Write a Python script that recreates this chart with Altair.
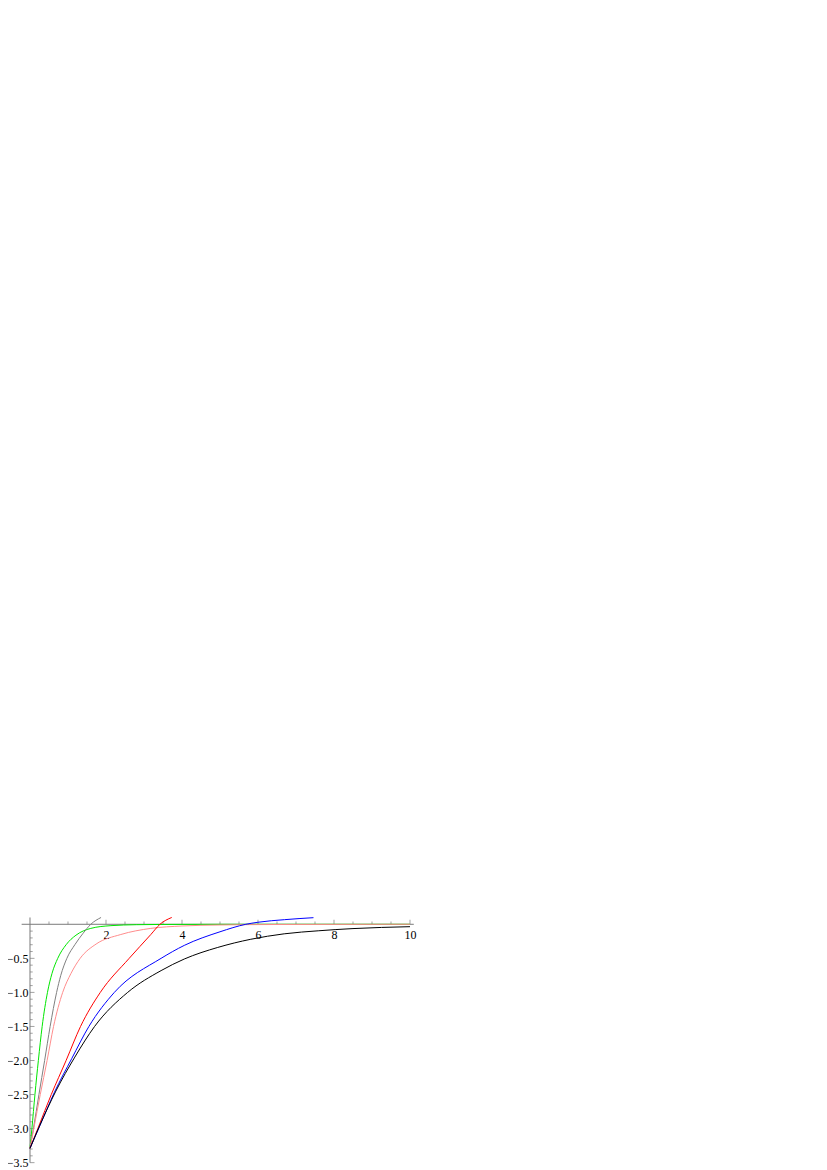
import altair as alt
import pandas as pd

# ---- data ----
green_x = [0, 0.05, 0.13, 0.22, 0.32, 0.46, 0.58, 0.73, 0.95, 1.21, 1.60, 2.13, 2.8, 3.5, 5.0, 10.0]
green_y = [-3.29, -3.0, -2.5, -2.0, -1.5, -1.0, -0.72, -0.5, -0.3, -0.16, -0.06, -0.02, -0.006, -0.002, 0.0, 0.0]

gray_x = [0, 0.09, 0.235, 0.385, 0.53, 0.70, 0.81, 0.97, 1.18, 1.40, 1.60, 1.87]
gray_y = [-3.29, -3.0, -2.5, -2.0, -1.5, -1.0, -0.75, -0.5, -0.3, -0.13, 0.0, 0.1]

pink_x = [0, 0.10, 0.27, 0.45, 0.62, 0.86, 1.08, 1.32, 1.74, 2.39, 3.18, 4.0, 5.0, 6.5, 10.0]
pink_y = [-3.29, -3.0, -2.5, -2.0, -1.5, -1.0, -0.72, -0.5, -0.29, -0.15, -0.06, -0.025, -0.01, -0.003, 0.0]

red_x = [0, 0.22, 0.56, 0.95, 1.33, 1.85, 2.61, 3.18, 3.42, 3.73]
red_y = [-3.29, -2.98, -2.5, -2.0, -1.5, -1.0, -0.5, -0.15, 0.0, 0.1]

blue_x = [0, 0.25, 0.64, 1.10, 1.55, 2.22, 3.45, 4.06, 5.0, 5.68, 6.0, 6.7, 7.46]
blue_y = [-3.29, -2.97, -2.47, -1.97, -1.5, -1.0, -0.5, -0.31, -0.11, 0.0, 0.03, 0.068, 0.097]

black_x = [0, 0.26, 0.68, 1.18, 1.70, 2.57, 3.45, 4.06, 4.94, 5.81, 6.69, 7.6, 8.5, 10.0]
black_y = [-3.29, -2.95, -2.45, -1.95, -1.5, -1.0, -0.68, -0.51, -0.34, -0.22, -0.14, -0.095, -0.063, -0.035]

series_names = ["green", "gray", "pink", "red", "blue", "black"]
series_colors = ["#00e600", "#808080", "#ff8c8c", "#ff0000", "#0000ff", "#000000"]
series_x = [green_x, gray_x, pink_x, red_x, blue_x, black_x]
series_y = [green_y, gray_y, pink_y, red_y, blue_y, black_y]

x_major = [2, 4, 6, 8, 10]
x_minor = [0.5, 1, 1.5, 2.5, 3, 3.5, 4.5, 5, 5.5, 6.5, 7, 7.5, 8.5, 9, 9.5]
y_major = [-3.5, -3.0, -2.5, -2.0, -1.5, -1.0, -0.5]
y_minor = [-3.4, -3.3, -3.2, -3.1, -2.9, -2.8, -2.7, -2.6, -2.4, -2.3, -2.2, -2.1,
           -1.9, -1.8, -1.7, -1.6, -1.4, -1.3, -1.2, -1.1, -0.9, -0.8, -0.7, -0.6,
           -0.4, -0.3, -0.2, -0.1]

x_domain = [-0.22, 10.1]
y_domain = [-3.5, 0.1]

# ---- geometry ----
PX_X = 38.0
PX_Y = 68.1
W = (x_domain[1] - x_domain[0]) * PX_X
H = (y_domain[1] - y_domain[0]) * PX_Y
origin_px = -x_domain[0] * PX_X          # x=0 from plot left
zero_px = y_domain[1] * PX_Y              # y=0 from plot top

AX = "#7a7a7a"
FONT = "Liberation Serif, Times New Roman, serif"
FS = 12

xscale = alt.Scale(domain=x_domain, nice=False, zero=False)
yscale = alt.Scale(domain=y_domain, nice=False, zero=False)

xaxis = alt.Axis(values=x_major, format="d", orient="bottom", offset=-(H - zero_px),
                 domain=False, ticks=False, tickSize=0, grid=False, labelPadding=5,
                 labelFont=FONT, labelFontSize=FS, labelColor="black",
                 labelFlush=False, labelOverlap=False)
yaxis = alt.Axis(values=y_major, format=".1f", orient="left", offset=-origin_px,
                 domain=False, ticks=False, tickSize=0, grid=False, labelPadding=2,
                 labelFont=FONT, labelFontSize=FS, labelColor="black",
                 labelFlush=False, labelOverlap=False)


def X(field):
    return alt.X(field, type="quantitative", scale=xscale, axis=xaxis, title=None)


def Y(field):
    return alt.Y(field, type="quantitative", scale=yscale, axis=yaxis, title=None)


# axis lines
xline = pd.DataFrame({"x": [x_domain[0]], "x2": [x_domain[1]], "y": [0.0]})
yline = pd.DataFrame({"x": [0.0], "y": [y_domain[0]], "y2": [y_domain[1]]})

layers = []
layers.append(alt.Chart(xline).mark_rule(color=AX, strokeWidth=1).encode(
    x=X("x"), x2="x2", y=Y("y")))
layers.append(alt.Chart(yline).mark_rule(color=AX, strokeWidth=1).encode(
    x=X("x"), y=Y("y"), y2="y2"))

# x-axis ticks (pointing up)
xmaj = pd.DataFrame({"x": x_major, "y": [0.0] * len(x_major)})
xmin = pd.DataFrame({"x": x_minor, "y": [0.0] * len(x_minor)})
layers.append(alt.Chart(xmaj).mark_tick(orient="vertical", size=4.5, thickness=1,
                                        yOffset=-2.25, color=AX).encode(x=X("x"), y=Y("y")))
layers.append(alt.Chart(xmin).mark_tick(orient="vertical", size=2.7, thickness=1,
                                        yOffset=-1.35, color=AX).encode(x=X("x"), y=Y("y")))

# y-axis ticks (pointing right)
ymaj = pd.DataFrame({"x": [0.0] * len(y_major), "y": y_major})
ymin = pd.DataFrame({"x": [0.0] * len(y_minor), "y": y_minor})
layers.append(alt.Chart(ymaj).mark_tick(orient="horizontal", size=4.5, thickness=1,
                                        xOffset=2.25, color=AX).encode(x=X("x"), y=Y("y")))
layers.append(alt.Chart(ymin).mark_tick(orient="horizontal", size=2.7, thickness=1,
                                        xOffset=1.35, color=AX).encode(x=X("x"), y=Y("y")))

# curves
for name, color, xs, ys in zip(series_names, series_colors, series_x, series_y):
    df = pd.DataFrame({"x": xs, "y": ys, "series": name})
    layers.append(alt.Chart(df).mark_line(color=color, strokeWidth=1,
                                          interpolate="monotone", clip=False).encode(
        x=X("x"), y=Y("y")))

left_pad = 30 - 8 - origin_px
top_pad = 924.3 - 8 - zero_px

chart = alt.layer(*layers).properties(
    width=W, height=H,
    autosize=alt.AutoSizeParams(type="none"),
    padding={"left": left_pad, "top": top_pad, "right": 12, "bottom": 6},
    background="white",
).configure_view(stroke=None)

chart.save("out.html", embed_options={"renderer": "svg", "actions": False})
